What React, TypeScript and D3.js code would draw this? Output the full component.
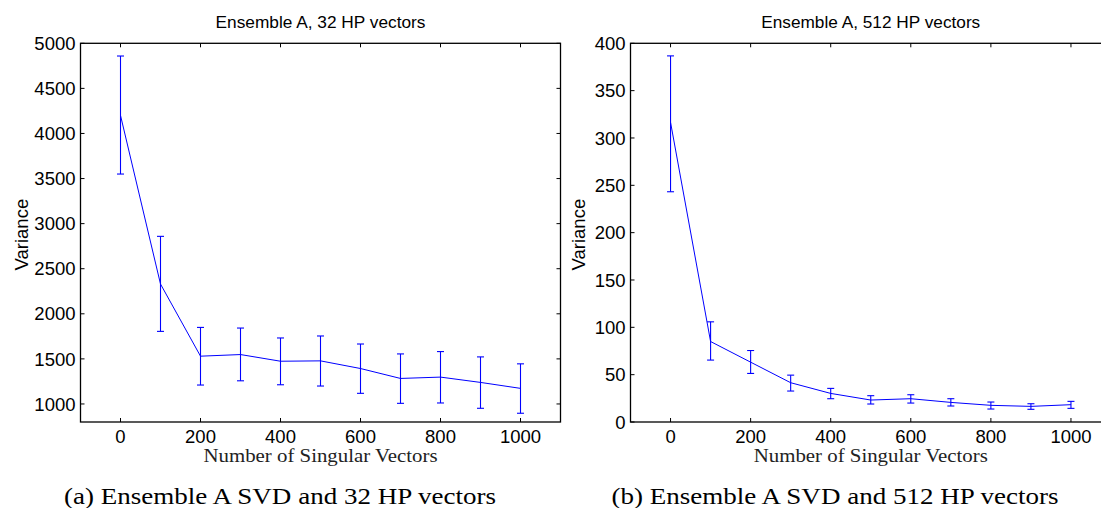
import React from "react";
import * as d3 from "d3";

const xValues = [0, 100, 200, 300, 400, 500, 600, 700, 800, 900, 1000];
const xTicks = [0, 200, 400, 600, 800, 1000];

const leftYTicks = [1000, 1500, 2000, 2500, 3000, 3500, 4000, 4500, 5000];
const leftMean = [4200, 2330, 1530, 1548, 1474, 1478, 1393, 1283, 1298, 1239, 1173];
const leftUpper = [4859, 2859, 1849, 1842, 1732, 1754, 1665, 1555, 1581, 1522, 1445];
const leftLower = [3550, 1805, 1210, 1257, 1213, 1199, 1118, 1007, 1011, 952, 897];

const rightYTicks = [0, 50, 100, 150, 200, 250, 300, 350, 400];
const rightMean = [316.5, 85, 63.2, 41.5, 30.2, 23.2, 24.6, 20.7, 17.6, 16.5, 18.3];
const rightUpper = [386.7, 105.8, 75.5, 49.5, 35.5, 27.8, 28.8, 24.6, 21.1, 19.3, 21.8];
const rightLower = [243.2, 65.4, 51.3, 32.7, 24.6, 19, 20, 16.9, 13.7, 13.4, 14.4];

const SANS = "'Liberation Sans', Arial, Helvetica, sans-serif";
const SERIF = "'Liberation Serif', 'Times New Roman', serif";
const BLUE = "#0000ff";

type PanelProps = {
  left: number;
  right: number;
  top: number;
  bottom: number;
  yDomain: [number, number];
  yTicks: number[];
  mean: number[];
  upper: number[];
  lower: number[];
  title: string;
  titleWidth: number;
  ylabelX: number;
  caption: string;
  captionX: number;
  captionWidth: number;
};

function Panel(p: PanelProps) {
  const x = d3.scaleLinear().domain([-100, 1100]).range([p.left, p.right]);
  const y = d3.scaleLinear().domain(p.yDomain).range([p.bottom, p.top]);
  const line = d3
    .line<number>()
    .x((_, i) => x(xValues[i]))
    .y((d) => y(d));
  const tick = 4;
  const cx = (p.left + p.right) / 2;
  const cap = 3.5;
  return (
    <g>
      <text
        x={cx}
        y={28}
        textAnchor="middle"
        fontFamily={SANS}
        fontSize={16.5}
        fill="#000"
        textLength={p.titleWidth}
        lengthAdjust="spacingAndGlyphs"
      >
        {p.title}
      </text>
      {xValues.map((xv, i) => (
        <g key={"eb" + i} stroke={BLUE} strokeWidth={1.1}>
          <line x1={x(xv)} x2={x(xv)} y1={y(p.upper[i])} y2={y(p.lower[i])} />
          <line x1={x(xv) - cap} x2={x(xv) + cap} y1={y(p.upper[i])} y2={y(p.upper[i])} />
          <line x1={x(xv) - cap} x2={x(xv) + cap} y1={y(p.lower[i])} y2={y(p.lower[i])} />
        </g>
      ))}
      <path d={line(p.mean) || ""} fill="none" stroke={BLUE} strokeWidth={1} />
      <rect
        x={p.left}
        y={p.top}
        width={p.right - p.left}
        height={p.bottom - p.top}
        fill="none"
        stroke="#000"
        strokeWidth={1.3}
      />
      {xTicks.map((t) => (
        <g key={"xt" + t} stroke="#000" strokeWidth={1}>
          <line x1={x(t)} x2={x(t)} y1={p.bottom} y2={p.bottom - tick} />
          <line x1={x(t)} x2={x(t)} y1={p.top} y2={p.top + tick} />
        </g>
      ))}
      {p.yTicks.map((t) => (
        <g key={"yt" + t} stroke="#000" strokeWidth={1}>
          <line x1={p.left} x2={p.left + tick} y1={y(t)} y2={y(t)} />
          <line x1={p.right} x2={p.right - tick} y1={y(t)} y2={y(t)} />
        </g>
      ))}
      {xTicks.map((t) => (
        <text
          key={"xl" + t}
          x={x(t)}
          y={p.bottom + 21}
          textAnchor="middle"
          fontFamily={SANS}
          fontSize={18.5}
          fill="#000"
        >
          {t}
        </text>
      ))}
      {p.yTicks.map((t) => (
        <text
          key={"yl" + t}
          x={p.left - 5}
          y={y(t)}
          dy="0.36em"
          textAnchor="end"
          fontFamily={SANS}
          fontSize={18.5}
          fill="#000"
        >
          {t}
        </text>
      ))}
      <text
        transform={`translate(${p.ylabelX},${(p.top + p.bottom) / 2 + 2}) rotate(-90)`}
        textAnchor="middle"
        fontFamily={SANS}
        fontSize={18.5}
        fill="#000"
      >
        Variance
      </text>
      <text
        x={cx}
        y={p.bottom + 40}
        textAnchor="middle"
        fontFamily={SERIF}
        fontSize={19}
        fill="#222"
        textLength={234}
        lengthAdjust="spacingAndGlyphs"
      >
        Number of Singular Vectors
      </text>
      <text
        x={p.captionX}
        y={504}
        textAnchor="middle"
        fontFamily={SERIF}
        fontSize={23.5}
        fill="#000"
        textLength={p.captionWidth}
        lengthAdjust="spacingAndGlyphs"
      >
        {p.caption}
      </text>
    </g>
  );
}

export default function App() {
  return (
    <svg
      width={1101}
      height={508}
      style={{ position: "absolute", left: 0, top: 0, background: "#fff" }}
    >
      <rect x={0} y={0} width={1101} height={508} fill="#fff" />
      <Panel
        left={80.5}
        right={560.5}
        top={43.3}
        bottom={422}
        yDomain={[800, 5000]}
        yTicks={leftYTicks}
        mean={leftMean}
        upper={leftUpper}
        lower={leftLower}
        title="Ensemble A, 32 HP vectors"
        titleWidth={210}
        ylabelX={28}
        caption="(a) Ensemble A SVD and 32 HP vectors"
        captionX={280}
        captionWidth={432}
      />
      <Panel
        left={630.5}
        right={1111}
        top={43.3}
        bottom={422}
        yDomain={[0, 400]}
        yTicks={rightYTicks}
        mean={rightMean}
        upper={rightUpper}
        lower={rightLower}
        title="Ensemble A, 512 HP vectors"
        titleWidth={219}
        ylabelX={585}
        caption="(b) Ensemble A SVD and 512 HP vectors"
        captionX={835}
        captionWidth={447}
      />
    </svg>
  );
}
